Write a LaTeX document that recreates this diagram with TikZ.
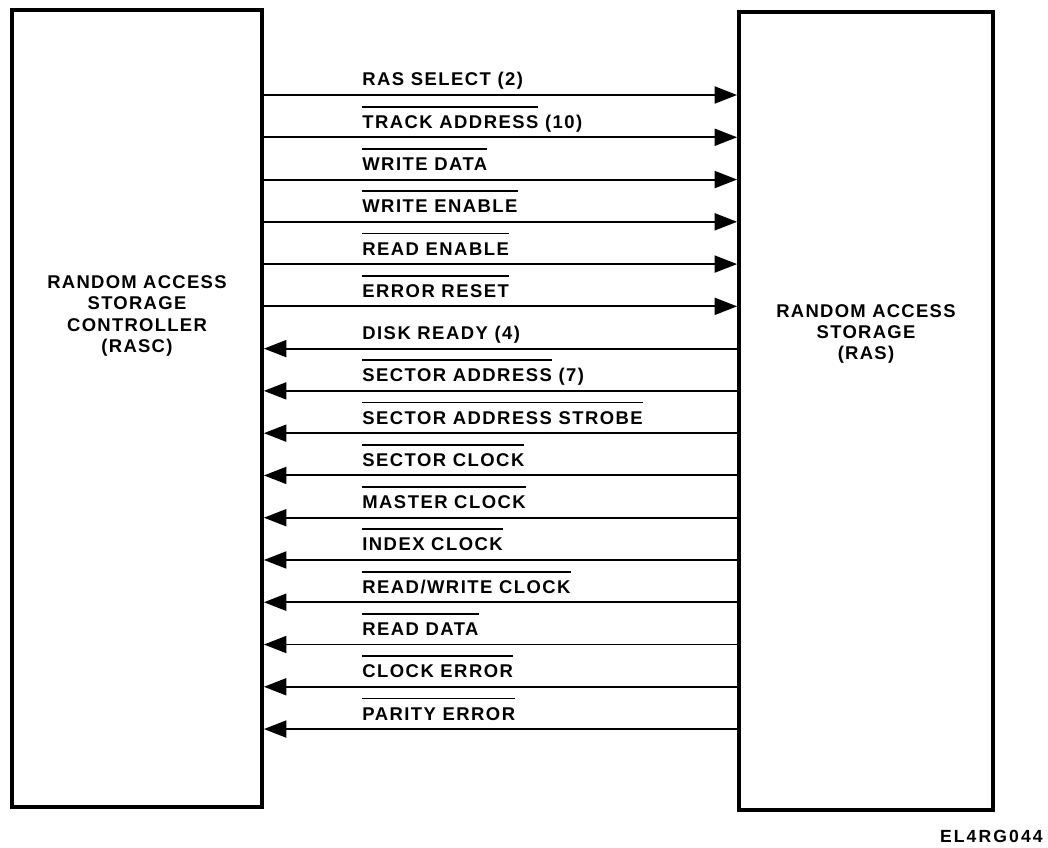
\documentclass[tikz,border=0pt]{standalone}
\usepackage{fontspec}
\setmainfont{Liberation Sans}
\usetikzlibrary{arrows.meta, positioning}
\newlength\lowactwd
\newcommand{\lowact}[1]{\settowidth{\lowactwd}{#1}\rlap{\rule[11.8pt]{\lowactwd}{1pt}}#1}

\begin{document}
\begin{tikzpicture}[x=0.02cm, y=-0.02cm,
    unitbox/.style={draw, line width=2.2pt, inner sep=0pt},
    unitlabel/.style={align=center, font=\fontsize{10.5}{12}\selectfont\bfseries\addfontfeature{LetterSpace=7}},
    sigline/.style={line width=1.1pt, -{Triangle[length=4.5mm, width=3.4mm]}},
    siglabel/.style={anchor=base west, inner sep=0pt, font=\fontsize{10.5}{12}\selectfont\bfseries\addfontfeature{LetterSpace=8}}]
    \useasboundingbox (0,0) rectangle (1048,848);
    % Define dimensions
    \def\pitch{42.27}
    \def\firsty{95}
    % Draw the two units
    \node[unitbox, minimum width=5cm, minimum height=15.94cm] (rasc) at (137,408.5) {};
    \node[unitbox, minimum width=5.08cm, minimum height=15.96cm] (ras) at (866,411) {};
    \node[unitlabel] (rasctext) at (137,316) {RANDOM ACCESS\\STORAGE\\CONTROLLER\\(RASC)};
    \node[unitlabel] (rastext) at (866,334) {RANDOM ACCESS\\STORAGE\\(RAS)};
    % Signals from controller to storage
    \foreach \i/\txt in {0/{RAS SELECT (2)}, 1/{\lowact{TRACK ADDRESS} (10)},
        2/{\lowact{WRITE DATA}}, 3/{\lowact{WRITE ENABLE}},
        4/{\lowact{READ ENABLE}}, 5/{\lowact{ERROR RESET}}}
    {
        \pgfmathsetmacro\yy{\firsty+\i*\pitch}
        \draw[sigline] (rasc.east |- 0,\yy) -- (ras.west |- 0,\yy);
        \node[siglabel] (sig\i) at (362,\yy-9) {\txt};
    }
    % Signals from storage to controller
    \foreach \i/\txt in {6/{DISK READY (4)}, 7/{\lowact{SECTOR ADDRESS} (7)},
        8/{\lowact{SECTOR ADDRESS STROBE}}, 9/{\lowact{SECTOR CLOCK}},
        10/{\lowact{MASTER CLOCK}}, 11/{\lowact{INDEX CLOCK}},
        12/{\lowact{READ/WRITE CLOCK}}, 13/{\lowact{READ DATA}},
        14/{\lowact{CLOCK ERROR}}, 15/{\lowact{PARITY ERROR}}}
    {
        \pgfmathsetmacro\yy{\firsty+\i*\pitch}
        \draw[sigline] (ras.west |- 0,\yy) -- (rasc.east |- 0,\yy);
        \node[siglabel] (sig\i) at (362,\yy-9) {\txt};
    }
    % Figure number
    \node[anchor=base east, inner sep=0pt, font=\fontsize{10}{12}\selectfont\bfseries\addfontfeature{LetterSpace=12}] (figid) at (1043,842) {EL4RG044};
\end{tikzpicture}
\end{document}
